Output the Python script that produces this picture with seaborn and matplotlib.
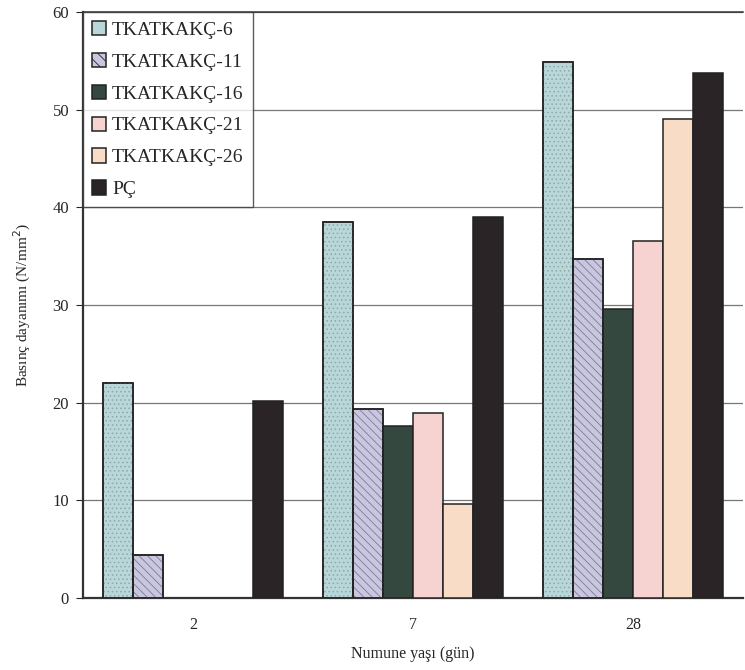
import pandas as pd
import matplotlib.pyplot as plt
import matplotlib.patches as mpatches
import numpy as np
import seaborn as sns

ages = ["2", "7", "28"]
series = ["TKATKAKÇ-6", "TKATKAKÇ-11", "TKATKAKÇ-16", "TKATKAKÇ-21", "TKATKAKÇ-26", "PÇ"]
tk6 = [22.0, 38.5, 54.9]
tk11 = [4.4, 19.4, 34.7]
tk16 = [np.nan, 17.6, 29.6]
tk21 = [np.nan, 18.9, 36.6]
tk26 = [np.nan, 9.6, 49.1]
pc = [20.2, 39.0, 53.8]

colors = ["#b9d6d8", "#c9c6df", "#34483f", "#f6d2d0", "#f9dcc6", "#2a2426"]

rows = []
for name, vals in zip(series, [tk6, tk11, tk16, tk21, tk26, pc]):
    for a, v in zip(ages, vals):
        if not np.isnan(v):
            rows.append({"age": a, "seri": name, "val": v})
df = pd.DataFrame(rows)

sns.set_style("white")
plt.rcParams['font.family'] = ['Liberation Serif', 'DejaVu Serif']
plt.rcParams['hatch.linewidth'] = 0.6

fig = plt.figure(figsize=(7.45, 6.7), dpi=100)
ax = fig.add_axes([0.1114, 0.1075, 0.886, 0.8745])

sns.barplot(data=df, x="age", y="val", hue="seri", order=ages, hue_order=series,
            palette=colors, width=0.82, edgecolor="#222222", linewidth=1.1,
            saturation=1, ax=ax, zorder=3)

# hatching, drawn over the library's own bars
for i, cont in enumerate(ax.containers):
    for p in cont:
        if i == 0:
            ax.add_patch(mpatches.Rectangle(p.get_xy(), p.get_width(), p.get_height(),
                         fill=False, hatch="....", edgecolor="#8fa8aa", lw=0, zorder=3.5))
        elif i == 1:
            ax.add_patch(mpatches.Rectangle(p.get_xy(), p.get_width(), p.get_height(),
                         fill=False, hatch="\\\\\\\\", edgecolor="#7e7b98", lw=0, zorder=3.5))
        if i in (0, 1):
            ax.add_patch(mpatches.Rectangle(p.get_xy(), p.get_width(), p.get_height(),
                         fill=False, edgecolor="#222222", lw=1.1, zorder=3.6))

ax.set_ylim(0, 60)
ax.set_xlim(-0.5, 2.5)
ax.set_yticks(range(0, 61, 10))
ax.yaxis.grid(True, color="#777777", linewidth=0.9, zorder=0)
ax.set_axisbelow(True)
for s in ax.spines.values():
    s.set_color("#333333")
    s.set_linewidth(1.1)
ax.spines["left"].set_linewidth(1.6)
ax.spines["bottom"].set_linewidth(1.6)
ax.spines["right"].set_visible(False)

ax.set_xticks([0.5, 1.5], minor=True)
ax.tick_params(axis="x", which="major", length=0, labelsize=11.5, pad=14)
ax.tick_params(axis="x", which="minor", length=5, direction="out")
ax.tick_params(axis="y", length=5, direction="out", labelsize=12, pad=5, left=True)

ax.set_xlabel("Numune yaşı (gün)", fontsize=11.5, labelpad=9)
ax.set_ylabel("Basınç dayanımı (N/mm$^2$)", fontsize=11, labelpad=14)

leg = ax.legend(loc="upper left", fontsize=14, frameon=True, fancybox=False,
                edgecolor="#333333", borderaxespad=0, handlelength=0.75,
                handleheight=0.75, handletextpad=0.3, labelspacing=0.72,
                borderpad=0.45)
leg.get_frame().set_linewidth(1.0)
handles = leg.legend_handles
handles[1].set_hatch("\\\\\\")

fig.savefig("out.png", dpi=100)
